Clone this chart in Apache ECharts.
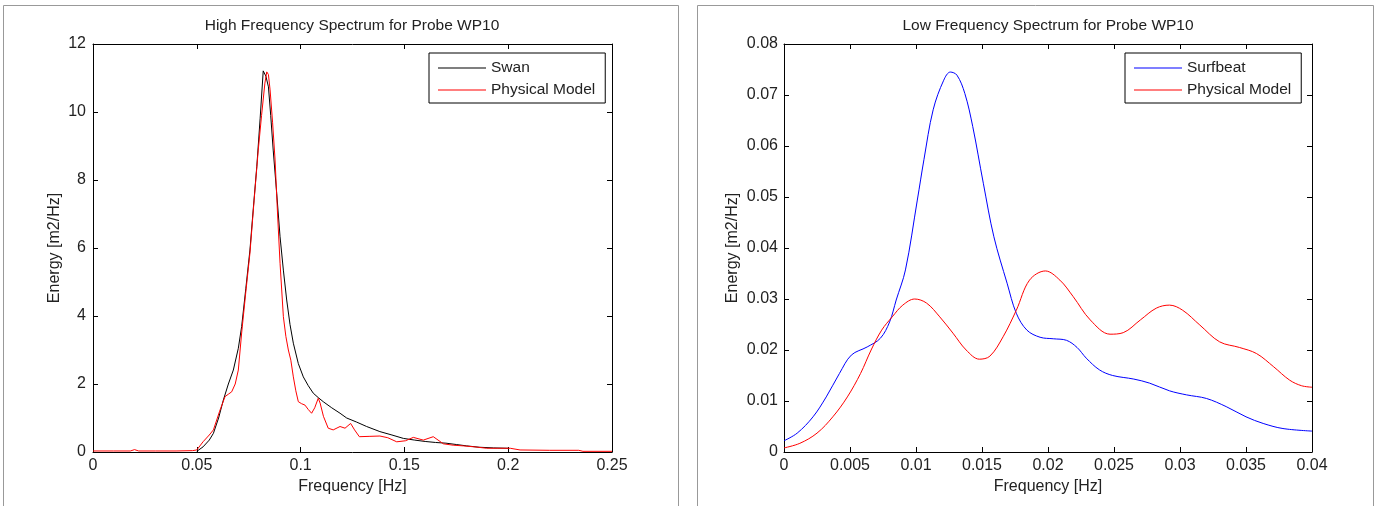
<!DOCTYPE html>
<html>
<head>
<meta charset="utf-8">
<script src="https://cdn.jsdelivr.net/npm/echarts@6/dist/echarts.min.js"></script>
<style>
  html, body { margin: 0; padding: 0; background: #fff; }
  #chart { width: 1378px; height: 506px; }
</style>
</head>
<body>
<div id="chart"></div>
<script>
// ---- High frequency spectrum (probe WP10) ----
const hfSwanFreq = [0.050, 0.053, 0.056, 0.058, 0.0605, 0.0628, 0.0652, 0.0676, 0.070, 0.0716, 0.0736, 0.0756, 0.0772, 0.0789, 0.0805, 0.0820, 0.0833, 0.0845, 0.0856, 0.0868, 0.0885, 0.0901, 0.0917, 0.0933, 0.0949, 0.0965, 0.0989, 0.1013, 0.1037, 0.1061, 0.1085, 0.1109, 0.115, 0.119, 0.1222, 0.127, 0.1318, 0.1382, 0.144, 0.1495, 0.155, 0.160, 0.165, 0.170, 0.175, 0.180, 0.186, 0.193, 0.200];
const hfSwan = [0.02, 0.15, 0.35, 0.55, 1.0, 1.53, 2.0, 2.41, 3.05, 3.69, 4.8, 5.94, 7.15, 8.39, 9.8, 11.21, 11.05, 10.74, 9.9, 8.88, 7.6, 6.33, 5.35, 4.47, 3.75, 3.20, 2.6, 2.21, 1.95, 1.73, 1.6, 1.48, 1.3, 1.14, 1.0, 0.88, 0.75, 0.60, 0.5, 0.40, 0.35, 0.31, 0.28, 0.26, 0.22, 0.18, 0.14, 0.12, 0.11];

const hfModelFreq = [0, 0.01, 0.018, 0.020, 0.022, 0.03, 0.04, 0.048, 0.050, 0.053, 0.056, 0.058, 0.061, 0.0636, 0.0652, 0.0668, 0.0685, 0.070, 0.0716, 0.0736, 0.0756, 0.0776, 0.0796, 0.0812, 0.0828, 0.0837, 0.0845, 0.0853, 0.0865, 0.0877, 0.0889, 0.0901, 0.0917, 0.0929, 0.0941, 0.0953, 0.0965, 0.0977, 0.0989, 0.1005, 0.1021, 0.1037, 0.1053, 0.1068, 0.1085, 0.1094, 0.111, 0.1133, 0.1157, 0.119, 0.1214, 0.1241, 0.126, 0.1283, 0.133, 0.1382, 0.142, 0.1463, 0.1505, 0.1543, 0.1591, 0.1639, 0.1688, 0.1735, 0.1784, 0.184, 0.1896, 0.195, 0.201, 0.2057, 0.22, 0.234, 0.236, 0.25];
const hfModel = [0.03, 0.03, 0.03, 0.07, 0.03, 0.03, 0.03, 0.04, 0.06, 0.3, 0.5, 0.65, 1.2, 1.63, 1.7, 1.77, 2.0, 2.41, 3.5, 4.7, 5.85, 7.4, 8.88, 9.9, 10.85, 11.18, 11.1, 10.65, 9.7, 8.59, 7.0, 5.55, 3.98, 3.4, 3.0, 2.7, 2.21, 1.8, 1.48, 1.42, 1.38, 1.25, 1.14, 1.3, 1.58, 1.44, 1.05, 0.70, 0.65, 0.75, 0.70, 0.84, 0.65, 0.45, 0.46, 0.47, 0.42, 0.30, 0.33, 0.43, 0.35, 0.45, 0.24, 0.2, 0.18, 0.15, 0.11, 0.11, 0.11, 0.06, 0.05, 0.05, 0.02, 0.02];

const hfXTicks = ['0', '0.05', '0.1', '0.15', '0.2', '0.25'];
const hfYTicks = ['0', '2', '4', '6', '8', '10', '12'];

// ---- Low frequency spectrum (probe WP10) ----
const lfSurfFreq = [0, 0.001, 0.0022, 0.0032, 0.0042, 0.0051, 0.0063, 0.0073, 0.0080, 0.0085, 0.0092, 0.0101, 0.0106, 0.0113, 0.0121, 0.0126, 0.0131, 0.0137, 0.0143, 0.0151, 0.0159, 0.0169, 0.0176, 0.0184, 0.0194, 0.0204, 0.0214, 0.0222, 0.0229, 0.0239, 0.0249, 0.0265, 0.0277, 0.0292, 0.0305, 0.0320, 0.0335, 0.0350, 0.0363, 0.0378, 0.040];
const lfSurf = [0.0022, 0.0037, 0.0069, 0.0108, 0.0154, 0.0190, 0.0206, 0.0223, 0.0255, 0.0298, 0.0357, 0.0494, 0.0573, 0.0671, 0.0729, 0.0745, 0.0739, 0.0703, 0.0638, 0.0527, 0.0422, 0.0331, 0.0272, 0.0239, 0.0225, 0.0222, 0.0219, 0.0205, 0.0184, 0.0161, 0.0150, 0.0143, 0.0135, 0.0120, 0.0112, 0.0105, 0.0089, 0.0069, 0.0056, 0.0046, 0.0041];

const lfModelFreq = [0, 0.0012, 0.0025, 0.0037, 0.0048, 0.0058, 0.0066, 0.0074, 0.0082, 0.0090, 0.0099, 0.0108, 0.0118, 0.0128, 0.0138, 0.0148, 0.0156, 0.0166, 0.0176, 0.0186, 0.0198, 0.0209, 0.0219, 0.0232, 0.0247, 0.0257, 0.0270, 0.0282, 0.0292, 0.0302, 0.0315, 0.0330, 0.0345, 0.0358, 0.0371, 0.0383, 0.0392, 0.040];
const lfModel = [0.0008, 0.0017, 0.0037, 0.0069, 0.0108, 0.0154, 0.0200, 0.0239, 0.0265, 0.0288, 0.0300, 0.0292, 0.0265, 0.0233, 0.0200, 0.0182, 0.0188, 0.0226, 0.0278, 0.0337, 0.0355, 0.0337, 0.0305, 0.0259, 0.0231, 0.0234, 0.0259, 0.0282, 0.0288, 0.0278, 0.0249, 0.0216, 0.0205, 0.0193, 0.0167, 0.0141, 0.0130, 0.0127];

const lfXTicks = ['0', '0.005', '0.01', '0.015', '0.02', '0.025', '0.03', '0.035', '0.04'];
const lfYTicks = ['0', '0.01', '0.02', '0.03', '0.04', '0.05', '0.06', '0.07', '0.08'];

const FONT = '"Liberation Sans", Arial, Helvetica, sans-serif';
const TEXT = '#222';

function pairs(xs, ys) { return xs.map((x, i) => [x, ys[i]]); }

function tickFormatter(labels, step) {
  return v => labels[Math.round(v / step)] ?? '';
}

// One panel = bottom/top x axes + left/right y axes, ticks pointing inward on all sides
function panelAxes(grid, xStep, xMax, xLabels, yStep, yMax, yLabels, xName, yName, yNameGap, yLabelMargin) {
  const line = () => ({ show: true, onZero: false, lineStyle: { color: '#000', width: 1 } });
  const tick = () => ({ show: true, inside: true, length: 5, lineStyle: { color: '#000', width: 1 } });
  const common = () => ({ type: 'value', gridIndex: grid, splitLine: { show: false }, axisLine: line(), axisTick: tick() });
  const xs = [
    Object.assign(common(), {
      position: 'bottom', min: 0, max: xMax, interval: xStep,
      name: xName, nameLocation: 'middle', nameGap: 27,
      nameTextStyle: { fontFamily: FONT, fontSize: 16, color: TEXT },
      axisLabel: { margin: 6, fontFamily: FONT, fontSize: 16, color: TEXT, formatter: tickFormatter(xLabels, xStep) }
    }),
    Object.assign(common(), {
      position: 'top', min: 0, max: xMax, interval: xStep, axisLabel: { show: false }
    })
  ];
  const ys = [
    Object.assign(common(), {
      position: 'left', min: 0, max: yMax, interval: yStep,
      name: yName, nameLocation: 'middle', nameGap: yNameGap, nameRotate: 90,
      nameTextStyle: { fontFamily: FONT, fontSize: 16, color: TEXT },
      axisLabel: { margin: yLabelMargin, fontFamily: FONT, fontSize: 16, color: TEXT, formatter: tickFormatter(yLabels, yStep) }
    }),
    Object.assign(common(), {
      position: 'right', min: 0, max: yMax, interval: yStep, axisLabel: { show: false }
    })
  ];
  return { xs, ys };
}

const hfAxes = panelAxes(0, 0.05, 0.25, hfXTicks, 2, 12, hfYTicks, 'Frequency [Hz]', 'Energy [m2/Hz]', 30, 7);
const lfAxes = panelAxes(1, 0.005, 0.04, lfXTicks, 0.01, 0.08, lfYTicks, 'Frequency [Hz]', 'Energy [m2/Hz]', 43, 6);

const legendCommon = {
  orient: 'vertical',
  backgroundColor: '#fff',
  borderColor: '#000',
  borderWidth: 1,
  borderRadius: 0,
  padding: [7, 10, 5, 9],
  icon: 'rect',
  itemWidth: 48,
  itemHeight: 1,
  itemGap: 6,
  selectedMode: false,
  textStyle: { fontFamily: FONT, fontSize: 15.5, color: TEXT }
};

const chart = echarts.init(document.getElementById('chart'), null, { renderer: 'canvas' });

chart.setOption({
  animation: false,
  backgroundColor: '#fff',
  graphic: [
    { type: 'rect', silent: true, z: -10, shape: { x: 3.5, y: 5.5, width: 675, height: 520 }, style: { fill: 'none', stroke: '#999', lineWidth: 1 } },
    { type: 'rect', silent: true, z: -10, shape: { x: 697.5, y: 5.5, width: 676, height: 520 }, style: { fill: 'none', stroke: '#999', lineWidth: 1 } }
  ],
  title: [
    { text: 'High Frequency Spectrum for Probe WP10', left: 352, top: 18, textAlign: 'center', padding: 0,
      textStyle: { fontFamily: FONT, fontSize: 15.5, fontWeight: 'normal', color: TEXT } },
    { text: 'Low Frequency Spectrum for Probe WP10', left: 1048, top: 18, textAlign: 'center', padding: 0,
      textStyle: { fontFamily: FONT, fontSize: 15.5, fontWeight: 'normal', color: TEXT } }
  ],
  grid: [
    { left: 93, top: 44, width: 519, height: 408 },
    { left: 784, top: 44, width: 528, height: 408 }
  ],
  xAxis: hfAxes.xs.concat(lfAxes.xs),
  yAxis: hfAxes.ys.concat(lfAxes.ys),
  legend: [
    Object.assign({}, legendCommon, { left: 429, top: 53, data: ['Swan', 'Physical Model'] }),
    Object.assign({}, legendCommon, { left: 1125, top: 53, data: ['Surfbeat', 'Physical Model'] })
  ],
  series: [
    { name: 'Swan', type: 'line', xAxisIndex: 0, yAxisIndex: 0, symbol: 'none', z: 3,
      lineStyle: { color: '#000', width: 1 }, itemStyle: { color: '#000' }, data: pairs(hfSwanFreq, hfSwan) },
    { name: 'Physical Model', type: 'line', xAxisIndex: 0, yAxisIndex: 0, symbol: 'none', z: 4,
      lineStyle: { color: '#ff0000', width: 1 }, itemStyle: { color: '#ff0000' }, data: pairs(hfModelFreq, hfModel) },
    { name: 'Surfbeat', type: 'line', xAxisIndex: 2, yAxisIndex: 2, symbol: 'none', smooth: 0.35, z: 3,
      lineStyle: { color: '#0000ff', width: 1 }, itemStyle: { color: '#0000ff' }, data: pairs(lfSurfFreq, lfSurf) },
    { name: 'Physical Model', type: 'line', xAxisIndex: 2, yAxisIndex: 2, symbol: 'none', smooth: 0.35, z: 4,
      lineStyle: { color: '#ff0000', width: 1 }, itemStyle: { color: '#ff0000' }, data: pairs(lfModelFreq, lfModel) }
  ]
});
</script>
</body>
</html>
